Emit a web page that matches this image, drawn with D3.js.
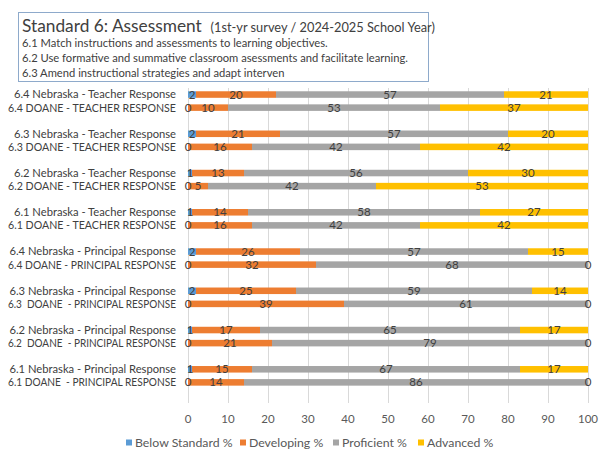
<!DOCTYPE html>
<html>
<head>
<meta charset="utf-8">
<script src="https://cdn.jsdelivr.net/npm/d3@7"></script>
<style>
  body { margin: 0; background: #fff; }
  svg text { font-family: Lato, "Liberation Sans", sans-serif; white-space: pre; }
</style>
</head>
<body>
<div id="chart"></div>
<script>
var width = 606;
var height = 465;

// categories, top to bottom
var categories = [
  "6.4 Nebraska - Teacher Response", "6.4 DOANE - TEACHER RESPONSE",
  "6.3 Nebraska - Teacher Response", "6.3 DOANE - TEACHER RESPONSE",
  "6.2 Nebraska - Teacher Response", "6.2 DOANE - TEACHER RESPONSE",
  "6.1 Nebraska - Teacher Response", "6.1 DOANE - TEACHER RESPONSE",
  "6.4 Nebraska - Principal Response", "6.4 DOANE - PRINCIPAL RESPONSE",
  "6.3 Nebraska - Principal Response", "6.3  DOANE  - PRINCIPAL RESPONSE",
  "6.2 Nebraska - Principal Response", "6.2  DOANE  - PRINCIPAL RESPONSE",
  "6.1 Nebraska - Principal Response", "6.1 DOANE  - PRINCIPAL RESPONSE"
];
var belowStandard = [2, 0, 2, 0, 1, 0, 1, 0, 2, 0, 2, 0, 1, 0, 1, 0];
var developing    = [20, 10, 21, 16, 13, 5, 14, 16, 26, 32, 25, 39, 17, 21, 15, 14];
var proficient    = [57, 53, 57, 42, 56, 42, 58, 42, 57, 68, 59, 61, 65, 79, 67, 86];
var advanced      = [21, 37, 20, 42, 30, 53, 27, 42, 15, 0, 14, 0, 17, 0, 17, 0];
var seriesNames = ["Below Standard %", "Developing %", "Proficient %", "Advanced %"];
var seriesColors = ["#5B9BD5", "#ED7D31", "#A5A5A5", "#FFC000"];
var xTicks = [0, 10, 20, 30, 40, 50, 60, 70, 80, 90, 100];

var titleLines = [
  "6.1 Match instructions and assessments to learning objectives.",
  "6.2 Use formative and summative classroom asessments and facilitate learning.",
  "6.3 Amend instructional strategies and adapt interven"
];

var svg = d3.select("#chart").append("svg")
    .attr("width", width)
    .attr("height", height);

// rows with a blank slot after each pair
var rowKeys = [];
categories.forEach(function(c, i) {
    rowKeys.push("r" + i);
    if (i % 2 == 1) rowKeys.push("gap" + i);
});

var xScale = d3.scaleLinear().domain([0, 100]).range([188, 588]);
var yScale = d3.scaleBand().domain(rowKeys).range([88, 402]).paddingInner(0.5).paddingOuter(0.25);

// gridlines
svg.append("g").selectAll("line")
    .data(xTicks)
    .enter()
    .append("line")
    .attr("x1", function(d) { return Math.round(xScale(d)) + 0.5; })
    .attr("x2", function(d) { return Math.round(xScale(d)) + 0.5; })
    .attr("y1", 88)
    .attr("y2", 403)
    .attr("stroke", "#D9D9D9")
    .attr("stroke-width", 1);

// x tick labels
svg.append("g").selectAll("text")
    .data(xTicks)
    .enter()
    .append("text")
    .attr("x", function(d) { return xScale(d); })
    .attr("y", 423)
    .attr("text-anchor", "middle")
    .attr("font-size", 11.5)
    .attr("fill", "#595959")
    .text(function(d) { return d; });

// stacked data
var rows = categories.map(function(c, i) {
    return { key: "r" + i, label: c, values: [belowStandard[i], developing[i], proficient[i], advanced[i]] };
});

var segments = [];
rows.forEach(function(r) {
    var start = 0;
    r.values.forEach(function(v, s) {
        segments.push({ key: r.key, s: s, x0: start, x1: start + v, v: v });
        start += v;
    });
});

svg.append("g").selectAll("rect")
    .data(segments)
    .enter()
    .append("rect")
    .attr("x", function(d) { return xScale(d.x0); })
    .attr("y", function(d) { return yScale(d.key); })
    .attr("width", function(d) { return xScale(d.x1) - xScale(d.x0); })
    .attr("height", yScale.bandwidth())
    .attr("fill", function(d) { return seriesColors[d.s]; });

svg.append("g").selectAll("text")
    .data(segments)
    .enter()
    .append("text")
    .attr("x", function(d) { return xScale((d.x0 + d.x1) / 2); })
    .attr("y", function(d) { return yScale(d.key) + yScale.bandwidth() / 2; })
    .attr("dy", "0.35em")
    .attr("text-anchor", "middle")
    .attr("font-size", 11.5)
    .attr("fill", "#404040")
    .text(function(d) { return d.v; });

// category labels - caps in Lato run wider than the original font, so squeeze long ones
var maxLabelWidth = 168;
svg.append("g").selectAll("text")
    .data(rows)
    .enter()
    .append("text")
    .attr("text-anchor", "end")
    .attr("dy", "0.35em")
    .attr("font-size", 11.2)
    .attr("fill", "#404040")
    .text(function(d) { return d.label; })
    .each(function(d) {
        var len = this.getComputedTextLength();
        var k = len > maxLabelWidth ? maxLabelWidth / len : 1;
        d3.select(this).attr("transform",
            "translate(176," + (yScale(d.key) + yScale.bandwidth() / 2) + ") scale(" + k + ",1)");
    });

// title box
svg.append("rect")
    .attr("x", 18.5).attr("y", 12.5)
    .attr("width", 410).attr("height", 69)
    .attr("fill", "#fff")
    .attr("stroke", "#8EAACB");

var title = svg.append("text")
    .attr("x", 22).attr("y", 32)
    .attr("fill", "#404040");
title.append("tspan").attr("font-size", 17.3).text("Standard 6: Assessment  ");
title.append("tspan").attr("font-size", 12.8).text("(1st-yr survey / 2024-2025 School Year)");

svg.append("g").selectAll("text")
    .data(titleLines)
    .enter()
    .append("text")
    .attr("x", 22)
    .attr("y", function(d, i) { return 47 + i * 15; })
    .attr("font-size", 11.2)
    .attr("fill", "#404040")
    .text(function(d) { return d; });

// legend
var legendX = [126, 240, 333, 418];
var legend = svg.append("g").selectAll("g")
    .data(seriesNames)
    .enter()
    .append("g")
    .attr("transform", function(d, i) { return "translate(" + legendX[i] + ",443)"; });
legend.append("rect")
    .attr("x", 0).attr("y", -3.5)
    .attr("width", 6).attr("height", 6)
    .attr("fill", function(d, i) { return seriesColors[i]; });
legend.append("text")
    .attr("x", 9)
    .attr("dy", "0.35em")
    .attr("font-size", 12.3)
    .attr("fill", "#595959")
    .text(function(d) { return d; });
</script>
</body>
</html>
